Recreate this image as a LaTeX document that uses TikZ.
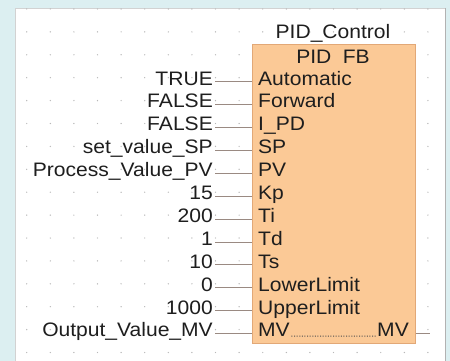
\documentclass[tikz,border=0pt]{standalone}
\usepackage{fontspec}
\setmainfont{Liberation Sans}[FakeStretch=1.08]
\usetikzlibrary{calc}
\definecolor{bgcyan}{HTML}{DCEFF1}
\definecolor{fbfill}{HTML}{FBC996}
\definecolor{fbedge}{HTML}{E2A877}
\definecolor{wirec}{HTML}{9A8A82}
\definecolor{txt}{HTML}{1E1E1E}
\definecolor{dotc}{HTML}{B8B8B8}
\tikzset{
  lbl/.style={inner sep=0pt, font=\fontsize{19.5}{21}\selectfont, text=txt},
  wire/.style={draw=wirec, line width=0.9pt},
  fbbox/.style={draw=fbedge, fill=fbfill, line width=0.8pt, inner sep=0pt},
  griddot/.style={fill=dotc, draw=none},
  mvdots/.style={draw=txt!80, line width=1.1pt, dash pattern=on 1pt off 1.6pt}
}
\begin{document}
\begin{tikzpicture}[x=1pt, y=-1pt]
\useasboundingbox (0,0) rectangle (450,361);
% background and panel
\fill[bgcyan] (0,0) rectangle (450,361);
\fill[white] (15,8) rectangle (445,361);
\draw[gray!35, line width=0.6pt] (15,361) -- (15,8) -- (445,8);
\draw[gray!60, line width=1.5pt] (445.5,8) -- (445.5,361);
% grid dots
\foreach \gx in {0,...,17} {
  \foreach \gy in {0,...,15} {
    \fill[griddot] (26.7+23.6*\gx, 9+22.9*\gy) circle (0.7pt);
  }
}
% function block
\node[fbbox, anchor=north west, minimum width=163pt, minimum height=299pt] (box) at (252,44) {};
\node[lbl, anchor=base] (inst) at (333,38.5) {PID\_Control};
\node[lbl, anchor=base] (fbtype) at (333,63.5) {PID\hspace{0.28em} FB};
% inputs
\foreach [count=\i from 0] \v/\p in {TRUE/Automatic, FALSE/Forward, FALSE/I\_PD, set\_value\_SP/SP, Process\_Value\_PV/PV, 15/Kp, 200/Ti, 1/Td, 10/Ts, 0/LowerLimit, 1000/UpperLimit, Output\_Value\_MV/MV} {
  \pgfmathsetmacro\yb{85+22.9*\i}
  \node[lbl, anchor=base east] (in\i) at (213,\yb) {\v};
  \node[lbl, anchor=base west] (pin\i) at (258,\yb) {\p};
  \draw[wire] ($(in\i.base east)+(2,-3.3)$) -- ($(pin\i.base west)+(-6,-3.3)$);
}
% output
\node[lbl, anchor=base east] (outmv) at (409,336.9) {MV};
\draw[mvdots] ($(pin11.base east)+(1.5,-0.8)$) -- ($(outmv.base west)+(-1,-0.8)$);
\coordinate (outend) at (430,333.6);
\draw[wire] (box.east |- outend) -- (outend);
\end{tikzpicture}
\end{document}
